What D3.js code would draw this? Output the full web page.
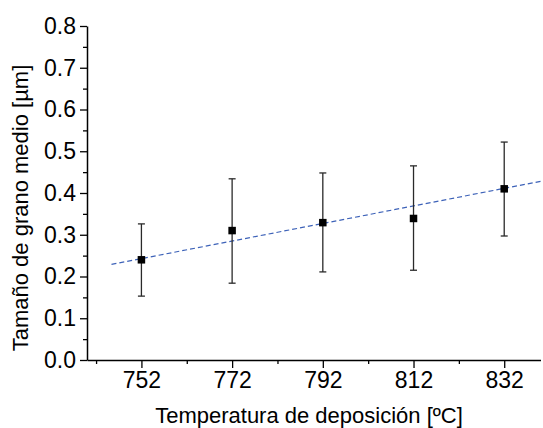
<!DOCTYPE html>
<html>
<head>
<meta charset="utf-8">
<script src="https://cdn.jsdelivr.net/npm/d3@7"></script>
<style>
  body { margin: 0; background: #fff; }
  text { font-family: "Liberation Sans", Arial, sans-serif; }
</style>
</head>
<body>
<div id="graph"></div>
<script>
// data
let temps = [752, 772, 792, 812, 832];
let grain = [0.24, 0.31, 0.329, 0.339, 0.41];
let err_hi = [0.326, 0.434, 0.448, 0.465, 0.522];
let err_lo = [0.153, 0.184, 0.211, 0.215, 0.297];
// linear fit, end points
let fit_x = [745.4, 841];
let fit_y = [0.229, 0.43];

let x_ticks = [752, 772, 792, 812, 832];
let x_minor = [742, 762, 782, 802, 822];
let y_ticks = [0, 0.1, 0.2, 0.3, 0.4, 0.5, 0.6, 0.7, 0.8];
let y_minor = [0.05, 0.15, 0.25, 0.35, 0.45, 0.55, 0.65, 0.75];

let width = 543, height = 428;

let svg = d3.select("#graph")
            .append("svg")
            .attr("width", width)
            .attr("height", height);

let x = d3.scaleLinear().domain([740, 840]).range([87, 540.5]);
let y = d3.scaleLinear().domain([0, 0.8]).range([360, 26]);

// fit line (dashed blue), may run past the axis end
svg.append("line")
   .attr("x1", x(fit_x[0]))
   .attr("y1", y(fit_y[0]))
   .attr("x2", x(fit_x[1]))
   .attr("y2", y(fit_y[1]))
   .attr("stroke", "#3d62b8")
   .attr("stroke-width", 1.2)
   .attr("stroke-dasharray", "5,3");

// error bars
let bars = svg.append("g").attr("stroke", "#2a2a2a").attr("stroke-width", 1.3);
temps.forEach(function(t, i) {
  bars.append("line")
      .attr("x1", x(t)).attr("x2", x(t))
      .attr("y1", y(err_lo[i])).attr("y2", y(err_hi[i]));
  [err_lo[i], err_hi[i]].forEach(function(v) {
    bars.append("line")
        .attr("x1", x(t) - 3.5).attr("x2", x(t) + 3.5)
        .attr("y1", y(v)).attr("y2", y(v));
  });
});

// markers
svg.append("g")
   .selectAll("rect")
   .data(temps)
   .enter().append("rect")
   .attr("x", function(d) { return x(d) - 3.75; })
   .attr("y", function(d, i) { return y(grain[i]) - 3.75; })
   .attr("width", 7.5)
   .attr("height", 7.5)
   .attr("fill", "#000");

// axes
svg.append("g")
   .attr("transform", "translate(0,360)")
   .call(d3.axisBottom(x).tickValues(x_ticks).tickSize(8).tickPadding(4).tickSizeOuter(0));
svg.append("g")
   .attr("transform", "translate(0,360)")
   .call(d3.axisBottom(x).tickValues(x_minor).tickSize(4).tickFormat("").tickSizeOuter(0))
   .select(".domain").remove();

svg.append("g")
   .attr("transform", "translate(87,0)")
   .call(d3.axisLeft(y).tickValues(y_ticks).tickSize(7).tickPadding(4)
           .tickFormat(d3.format(".1f")).tickSizeOuter(0));
svg.append("g")
   .attr("transform", "translate(87,0)")
   .call(d3.axisLeft(y).tickValues(y_minor).tickSize(4).tickFormat("").tickSizeOuter(0))
   .select(".domain").remove();

svg.selectAll(".domain").attr("stroke", "#000").attr("stroke-width", 1.5);
svg.selectAll(".tick line").attr("stroke", "#000").attr("stroke-width", 1.3);
svg.selectAll(".tick text")
   .attr("font-size", 23)
   .attr("fill", "#000")
   .attr("font-family", "Liberation Sans, Arial, sans-serif");

// axis titles
svg.append("text")
   .attr("x", 309)
   .attr("y", 423)
   .attr("text-anchor", "middle")
   .attr("font-size", 22)
   .text("Temperatura de deposición [ºC]");

svg.append("text")
   .attr("transform", "translate(28,208) rotate(-90)")
   .attr("text-anchor", "middle")
   .attr("font-size", 22)
   .text("Tamaño de grano medio [µm]");
</script>
</body>
</html>
